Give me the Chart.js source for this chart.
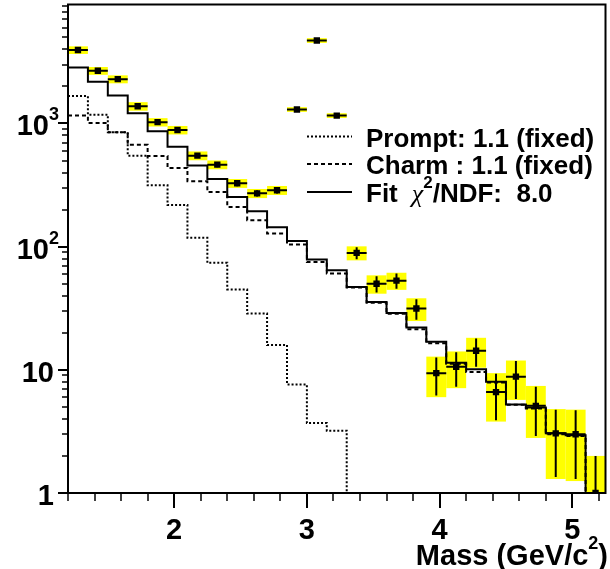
<!DOCTYPE html>
<html>
<head>
<meta charset="utf-8">
<script src="https://cdn.jsdelivr.net/npm/chart.js@4.4.0/dist/chart.umd.min.js"></script>
<style>
  html, body { margin: 0; padding: 0; background: #fff; }
</style>
</head>
<body>
<canvas id="massChart" width="610" height="569"></canvas>
<script>
// bins (GeV/c^2)
const binCenters = [1.275, 1.425, 1.575, 1.725, 1.875, 2.025, 2.175, 2.325, 2.475, 2.625, 2.775, 2.925, 3.075, 3.225,
                    3.375, 3.525, 3.675, 3.825, 3.975, 4.125, 4.275, 4.425, 4.575, 4.725, 4.875, 5.025, 5.175];
const binWidth = 0.15;

// measured spectrum
const dataCounts = [3950, 2680, 2290, 1380, 1025, 885, 548, 463, 327, 271, 287, 1300, 4720, 1160,
                    89, 50, 53, 31.5, 9.4, 10.6, 14.3, 6.6, 8.8, 5.1, 3.05, 3.0, 1.0];
const statErr = [62, 52, 48, 37, 32, 30, 23, 22, 18, 16, 17, 36, 69, 34,
                 10, 7.5, 7.5, 6, 3.2, 3.3, 3.7, 2.7, 3.0, 2.2, 1.7, 1.7, 1.0];
const sysErr = [280, 195, 170, 110, 80, 70, 45, 38, 27, 23, 24, 57, 210, 51,
                11.6, 8.5, 8.4, 6.6, 3.4, 3.5, 3.9, 2.8, 3.1, 2.3, 1.75, 1.75, 1.0];

// simulated components
const fitCounts = [2850, 2180, 1690, 1210, 867, 648, 457, 354, 253, 194, 144, 111, 78.6, 64.4,
                   47.1, 35.6, 29.0, 22.1, 16.9, 11.4, 10.1, 8.0, 5.24, 4.95, 3.05, 2.95, 1];
const charmCounts = [1160, 1010, 851, 673, 544, 435, 339, 278, 210, 164, 128, 104, 75, 60.5,
                     46.6, 35, 28.5, 21.4, 16.4, 11.2, 9.6, 7.9, 5.2, 4.85, 3.0, 2.9, 1];
const promptCounts = [1670, 1180, 851, 548, 315, 218, 118, 74, 45, 28.7, 15.9, 7.6, 3.7, 3.2,
                      1, 1, 1, 1, 1, 1, 1, 1, 1, 1, 1, 1, 1];

// axis ticks
const xMinorTicks = [1.2, 1.4, 1.6, 1.8, 2.0, 2.2, 2.4, 2.6, 2.8, 3.0, 3.2, 3.4, 3.6, 3.8, 4.0, 4.2, 4.4, 4.6, 4.8, 5.0, 5.2];
const xMajorTicks = [2, 3, 4, 5];
const xTickLabels = ['2', '3', '4', '5'];
const yMajorTicks = [1, 10, 100, 1000];
const yTickBase = ['1', '10', '10', '10'];
const yTickExp = ['', '', '2', '3'];

const legendLabels = ['Prompt: 1.1 (fixed)', 'Charm : 1.1 (fixed)', 'Fit'];

const FONT = '"Liberation Sans", Arial, Helvetica, sans-serif';
const AXIS_FONT = 'bold 29px ' + FONT;
const SUP_FONT = 'bold 18px ' + FONT;

// step histogram points at bin edges
function stepPoints(vals) {
    const pts = binCenters.map((c, i) => ({ x: c - binWidth / 2, y: vals[i] }));
    const last = binCenters.length - 1;
    pts.push({ x: binCenters[last] + binWidth / 2, y: vals[last] });
    return pts;
}

const errorPlugin = {
    id: 'errorPlugin',
    beforeDatasetsDraw(chart) {
        const { ctx, chartArea: a, scales: { x, y } } = chart;
        ctx.save();
        ctx.beginPath();
        ctx.rect(a.left, a.top, a.right - a.left, a.bottom - a.top);
        ctx.clip();
        ctx.fillStyle = '#ffff00';
        binCenters.forEach((c, i) => {
            const x0 = x.getPixelForValue(c - binWidth / 2);
            const x1 = x.getPixelForValue(c + binWidth / 2);
            const lo = Math.max(dataCounts[i] - sysErr[i], 0.5);
            const y0 = y.getPixelForValue(dataCounts[i] + sysErr[i]);
            const y1 = y.getPixelForValue(lo);
            ctx.fillRect(x0, y0, x1 - x0, y1 - y0);
        });
        ctx.restore();
    },
    afterDatasetsDraw(chart) {
        const { ctx, chartArea: a, scales: { x, y } } = chart;
        ctx.save();
        ctx.beginPath();
        ctx.rect(a.left, a.top, a.right - a.left, a.bottom - a.top + 1);
        ctx.clip();
        ctx.strokeStyle = '#000';
        ctx.lineWidth = 2;
        binCenters.forEach((c, i) => {
            const px = x.getPixelForValue(c);
            const py = y.getPixelForValue(dataCounts[i]);
            const lo = Math.max(dataCounts[i] - statErr[i], 0.5);
            ctx.beginPath();
            ctx.moveTo(x.getPixelForValue(c - binWidth / 2), py);
            ctx.lineTo(x.getPixelForValue(c + binWidth / 2), py);
            ctx.moveTo(px, y.getPixelForValue(dataCounts[i] + statErr[i]));
            ctx.lineTo(px, y.getPixelForValue(lo));
            ctx.stroke();
        });
        ctx.restore();
    },
    afterDraw(chart) {
        const { ctx, chartArea: a, scales: { x, y } } = chart;
        ctx.save();
        ctx.strokeStyle = '#000';
        ctx.fillStyle = '#000';

        // frame
        ctx.lineWidth = 2;
        ctx.strokeRect(a.left, a.top, a.right - a.left, a.bottom - a.top);

        // x ticks
        xMinorTicks.forEach(v => {
            const px = Math.round(x.getPixelForValue(v));
            const major = xMajorTicks.some(m => Math.abs(m - v) < 1e-6);
            ctx.lineWidth = major ? 2 : 1.5;
            ctx.beginPath();
            ctx.moveTo(px, a.bottom);
            ctx.lineTo(px, a.bottom + (major ? 15 : 8));
            ctx.stroke();
        });
        // y ticks
        yMajorTicks.forEach(d => {
            for (let m = 1; m <= 9; m++) {
                const v = d * m;
                if (v > y.max) break;
                const py = Math.round(y.getPixelForValue(v));
                ctx.lineWidth = m === 1 ? 2 : 1.5;
                ctx.beginPath();
                ctx.moveTo(a.left, py);
                ctx.lineTo(a.left - (m === 1 ? 10 : 6), py);
                ctx.stroke();
            }
        });

        // x tick labels
        ctx.font = AXIS_FONT;
        ctx.textAlign = 'center';
        ctx.textBaseline = 'alphabetic';
        xMajorTicks.forEach((v, i) => {
            ctx.fillText(xTickLabels[i], x.getPixelForValue(v), 539);
        });

        // y tick labels
        ctx.textAlign = 'right';
        yMajorTicks.forEach((v, i) => {
            const py = y.getPixelForValue(v);
            if (yTickExp[i]) {
                ctx.font = SUP_FONT;
                const ew = ctx.measureText(yTickExp[i]).width;
                ctx.fillText(yTickExp[i], 59, py - 3);
                ctx.font = AXIS_FONT;
                ctx.fillText(yTickBase[i], 59 - ew, py + 12);
            } else {
                ctx.font = AXIS_FONT;
                ctx.fillText(yTickBase[i], 54, py + 12);
            }
        });

        // x title
        ctx.textAlign = 'right';
        ctx.font = AXIS_FONT;
        const closeW = ctx.measureText(')').width;
        ctx.fillText(')', 608, 565);
        ctx.font = SUP_FONT;
        const supW = ctx.measureText('2').width;
        ctx.fillText('2', 608 - closeW, 549);
        ctx.font = AXIS_FONT;
        ctx.fillText('Mass (GeV/c', 608 - closeW - supW, 565);

        // legend
        const rows = [146.5, 174, 201.5];
        const lineY = [136.5, 164, 192];
        const dashes = [[2, 2], [4, 3], []];
        rows.forEach((by, i) => {
            ctx.lineWidth = 2;
            ctx.setLineDash(dashes[i]);
            ctx.beginPath();
            ctx.moveTo(307, lineY[i]);
            ctx.lineTo(352, lineY[i]);
            ctx.stroke();
            ctx.setLineDash([]);
            ctx.textAlign = 'left';
            ctx.font = 'bold 26px ' + FONT;
            ctx.fillText(legendLabels[i], 366, by);
        });
        // chi2 part of the fit entry
        let fx = 366 + ctx.measureText('Fit').width + 14;
        ctx.font = 'italic 26px "Liberation Serif", "Times New Roman", serif';
        ctx.fillText('χ', fx, rows[2]);
        fx += ctx.measureText('χ').width;
        ctx.font = 'bold 17px ' + FONT;
        ctx.fillText('2', fx, rows[2] - 14);
        fx += ctx.measureText('2').width;
        ctx.font = 'bold 26px ' + FONT;
        ctx.fillText('/NDF:  8.0', fx, rows[2]);
        ctx.restore();
    }
};

const ctxMass = document.getElementById('massChart').getContext('2d');
new Chart(ctxMass, {
    type: 'line',
    data: {
        datasets: [{
            label: 'Data',
            data: binCenters.map((c, i) => ({ x: c, y: dataCounts[i] })),
            showLine: false,
            pointStyle: 'rect',
            pointRadius: 4.5,
            backgroundColor: '#000',
            borderWidth: 0
        }, {
            label: 'Fit',
            data: stepPoints(fitCounts),
            stepped: 'before',
            borderColor: '#000',
            borderWidth: 2,
            pointRadius: 0,
            fill: false
        }, {
            label: 'Charm',
            data: stepPoints(charmCounts),
            stepped: 'before',
            borderColor: '#000',
            borderWidth: 2,
            borderDash: [4, 3],
            pointRadius: 0,
            fill: false
        }, {
            label: 'Prompt',
            data: stepPoints(promptCounts),
            stepped: 'before',
            borderColor: '#000',
            borderWidth: 2,
            borderDash: [2, 2],
            pointRadius: 0,
            fill: false
        }]
    },
    options: {
        responsive: false,
        animation: false,
        layout: { padding: { top: 4, right: 4, left: 0, bottom: 0 } },
        plugins: {
            legend: { display: false },
            tooltip: { enabled: false }
        },
        scales: {
            x: {
                type: 'linear',
                min: 1.2,
                max: 5.25,
                ticks: { display: false },
                grid: { display: false },
                border: { display: false },
                afterFit: s => { s.height = 76; }
            },
            y: {
                type: 'logarithmic',
                min: 1,
                max: 9250,
                ticks: { display: false },
                grid: { display: false },
                border: { display: false },
                afterFit: s => { s.width = 68; }
            }
        }
    },
    plugins: [errorPlugin]
});
</script>
</body>
</html>
